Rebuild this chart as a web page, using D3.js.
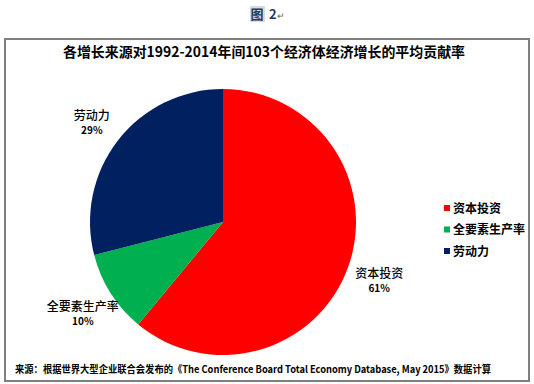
<!DOCTYPE html>
<html>
<head>
  <meta charset="utf-8">
  <title>各增长来源的平均贡献率</title>
  <script src="https://d3js.org/d3.v7.min.js"></script>
  <style>
    body { margin: 0; background: #fff; }
    text { font-family: "Noto Sans CJK SC", "Noto Sans", sans-serif; }
  </style>
</head>
<body>
  <div id="chart"></div>
  <script>
// chart data
var categories = ["资本投资", "全要素生产率", "劳动力"];
var shares = [61, 10, 29];
var colors = ["#ff0000", "#00b050", "#002060"];

var W = 534, H = 384;
var cx = 223, cy = 222, radius = 133;

var svg = d3.select("#chart").append("svg")
    .attr("width", W)
    .attr("height", H);

// caption above the frame
var cap = svg.append("g").attr("transform", "translate(267,14)");
cap.append("rect").attr("x", -17).attr("y", -8).attr("width", 15).attr("height", 16)
    .attr("fill", "#d9d9d9");
cap.append("text").attr("x", -10).attr("y", 5).attr("text-anchor", "middle")
    .attr("font-size", 13).attr("font-weight", "bold").attr("fill", "#1f3864").text("图");
cap.append("text").attr("x", 2).attr("y", 5)
    .attr("font-size", 13).attr("font-weight", "bold").attr("fill", "#1f3864").text("2");
cap.append("text").attr("x", 10).attr("y", 5)
    .attr("font-size", 9).attr("fill", "#666").text("↵");

// frame
svg.append("rect")
    .attr("x", 5).attr("y", 39)
    .attr("width", 524).attr("height", 342)
    .attr("fill", "#fff")
    .attr("stroke", "#7f7f7f").attr("stroke-width", 2);

// title
svg.append("text")
    .attr("x", 264).attr("y", 57)
    .attr("text-anchor", "middle")
    .attr("font-size", 14).attr("font-weight", "bold")
    .attr("textLength", 402).attr("lengthAdjust", "spacingAndGlyphs")
    .text("各增长来源对1992-2014年间103个经济体经济增长的平均贡献率");

// pie
var pie = d3.pie().sort(null).value(function(d) { return d; });
var arcs = pie(shares);
var arc = d3.arc().innerRadius(0).outerRadius(radius);
var labelArc = d3.arc().innerRadius(166).outerRadius(166);

var g = svg.append("g").attr("transform", "translate(" + cx + "," + cy + ")");

g.selectAll("path")
  .data(arcs)
  .enter()
  .append("path")
    .attr("d", arc)
    .attr("fill", function(d, i) { return colors[i]; });

// data labels
var lab = g.selectAll(".lab")
  .data(arcs)
  .enter()
  .append("g")
    .attr("class", "lab")
    .attr("transform", function(d) {
      var c = labelArc.centroid(d);
      return "translate(" + c[0] + "," + c[1] + ")";
    });

lab.append("text")
    .attr("y", 0)
    .attr("text-anchor", "middle")
    .attr("font-size", 12).attr("font-weight", 500)
    .text(function(d, i) { return categories[i]; });

lab.append("text")
    .attr("y", 14)
    .attr("text-anchor", "middle")
    .attr("font-size", 10).attr("font-weight", "bold")
    .text(function(d, i) { return shares[i] + "%"; });

// legend
var legend = svg.selectAll(".legend")
  .data(categories)
  .enter()
  .append("g")
    .attr("class", "legend")
    .attr("transform", function(d, i) { return "translate(444," + (208 + i * 21.5) + ")"; });

legend.append("rect")
    .attr("x", 0).attr("y", -3)
    .attr("width", 6).attr("height", 6)
    .attr("fill", function(d, i) { return colors[i]; });

legend.append("text")
    .attr("x", 9).attr("y", 4.5)
    .attr("font-size", 12).attr("font-weight", "bold")
    .text(function(d) { return d; });

// source note
svg.append("text")
    .attr("x", 15).attr("y", 373)
    .attr("font-size", 10).attr("font-weight", "bold")
    .attr("textLength", 476).attr("lengthAdjust", "spacingAndGlyphs")
    .text("来源：根据世界大型企业联合会发布的《The Conference Board Total Economy Database, May 2015》数据计算");
  </script>
</body>
</html>
